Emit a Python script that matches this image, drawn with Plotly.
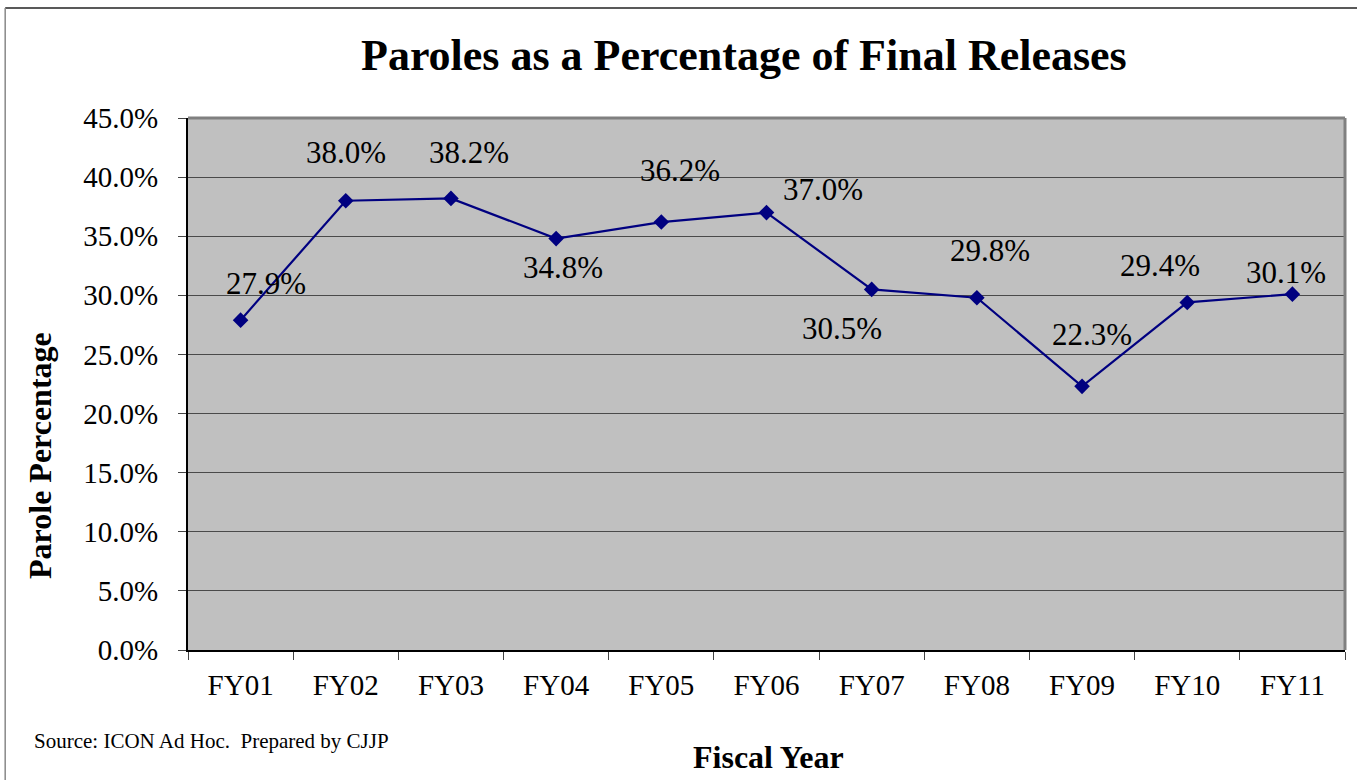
import plotly.graph_objects as go

years = ["FY01", "FY02", "FY03", "FY04", "FY05", "FY06", "FY07", "FY08", "FY09", "FY10", "FY11"]
parole_pct = [27.9, 38.0, 38.2, 34.8, 36.2, 37.0, 30.5, 29.8, 22.3, 29.4, 30.1]
y_ticks = [0, 5, 10, 15, 20, 25, 30, 35, 40, 45]

# label offsets (pixels) relative to each point
label_dx = [25, 0, 18, 7, 19, 56, -30, 13, 10, -27, -6]
label_dy = [37, 48, 46, -29, 52, 23, -39, 47, 52, 37, 22]

FONT = "Liberation Serif, Times New Roman, serif"

fig = go.Figure()
fig.add_trace(go.Scatter(
    x=years, y=parole_pct, mode="lines+markers",
    line=dict(color="#000080", width=2.2),
    marker=dict(symbol="diamond", size=12, color="#000080"),
    hoverinfo="x+y", showlegend=False,
))

for xv, yv, dx, dy in zip(years, parole_pct, label_dx, label_dy):
    fig.add_annotation(x=xv, y=yv, text=f"{yv:.1f}%", showarrow=False,
                       xshift=dx, yshift=dy, xanchor="center", yanchor="middle",
                       font=dict(family=FONT, size=31, color="black"))

fig.add_annotation(text="<b>Paroles as a Percentage of Final Releases</b>",
                   xref="paper", yref="paper", x=0.4806, y=1.0, yshift=63,
                   xanchor="center", yanchor="middle",
                   showarrow=False, font=dict(family=FONT, size=44, color="black"))
fig.add_annotation(text="<b>Fiscal Year</b>", xref="paper", yref="paper",
                   x=0.5013, y=0, yshift=-107, xanchor="center", yanchor="middle",
                   showarrow=False, font=dict(family=FONT, size=32, color="black"))
fig.add_annotation(text="<b>Parole Percentage</b>", xref="paper", yref="paper",
                   x=-0.128, y=0.3665, textangle=-90, xanchor="center", yanchor="middle",
                   showarrow=False, font=dict(family=FONT, size=32, color="black"))
fig.add_annotation(text="Source: ICON Ad Hoc.  Prepared by CJJP", xref="paper", yref="paper",
                   x=-0.1348, xanchor="left", y=0, yshift=-91, yanchor="middle", showarrow=False,
                   font=dict(family=FONT, size=21, color="black"))

fig.update_layout(
    width=1359, height=780,
    margin=dict(l=188, r=14, t=118, b=130),
    paper_bgcolor="white", plot_bgcolor="#C0C0C0",
    font=dict(family=FONT, color="black"),
    xaxis=dict(
        type="category", range=[-0.5, 10.5], tickson="boundaries",
        ticks="outside", ticklen=8, tickcolor="#444", tickwidth=1,
        showline=True, linecolor="black", linewidth=2, mirror=False,
        showgrid=False, ticklabelstandoff=8,
        tickfont=dict(family=FONT, size=29, color="black"),
    ),
    yaxis=dict(
        range=[0, 45], tickvals=y_ticks, ticktext=[f"{v:.1f}%" for v in y_ticks],
        ticks="outside", ticklen=8, tickcolor="#444",
        showline=True, linecolor="black", linewidth=2,
        showgrid=True, gridcolor="#4a4a4a", gridwidth=1, zeroline=False,
        ticklabelstandoff=14,
        tickfont=dict(family=FONT, size=29, color="black"),
    ),
)

# plot frame top/right in gray
fig.add_shape(type="line", xref="paper", yref="paper", x0=0, x1=1, y0=1, y1=1,
              line=dict(color="#808080", width=3))
fig.add_shape(type="line", xref="paper", yref="paper", x0=1, x1=1, y0=0, y1=1,
              line=dict(color="#808080", width=3))

# outer border lines (top and left of the page frame)
fig.add_shape(type="line", xref="paper", yref="paper", x0=-0.158, x1=1.0104,
              y0=1.2068, y1=1.2068, line=dict(color="#222", width=1.5))
fig.add_shape(type="line", xref="paper", yref="paper", x0=-0.158, x1=-0.158,
              y0=-0.25, y1=1.2068, line=dict(color="#888", width=1.5))

fig.write_html("out.html", post_script="document.body.style.margin='0';",
               config={"displayModeBar": False})
